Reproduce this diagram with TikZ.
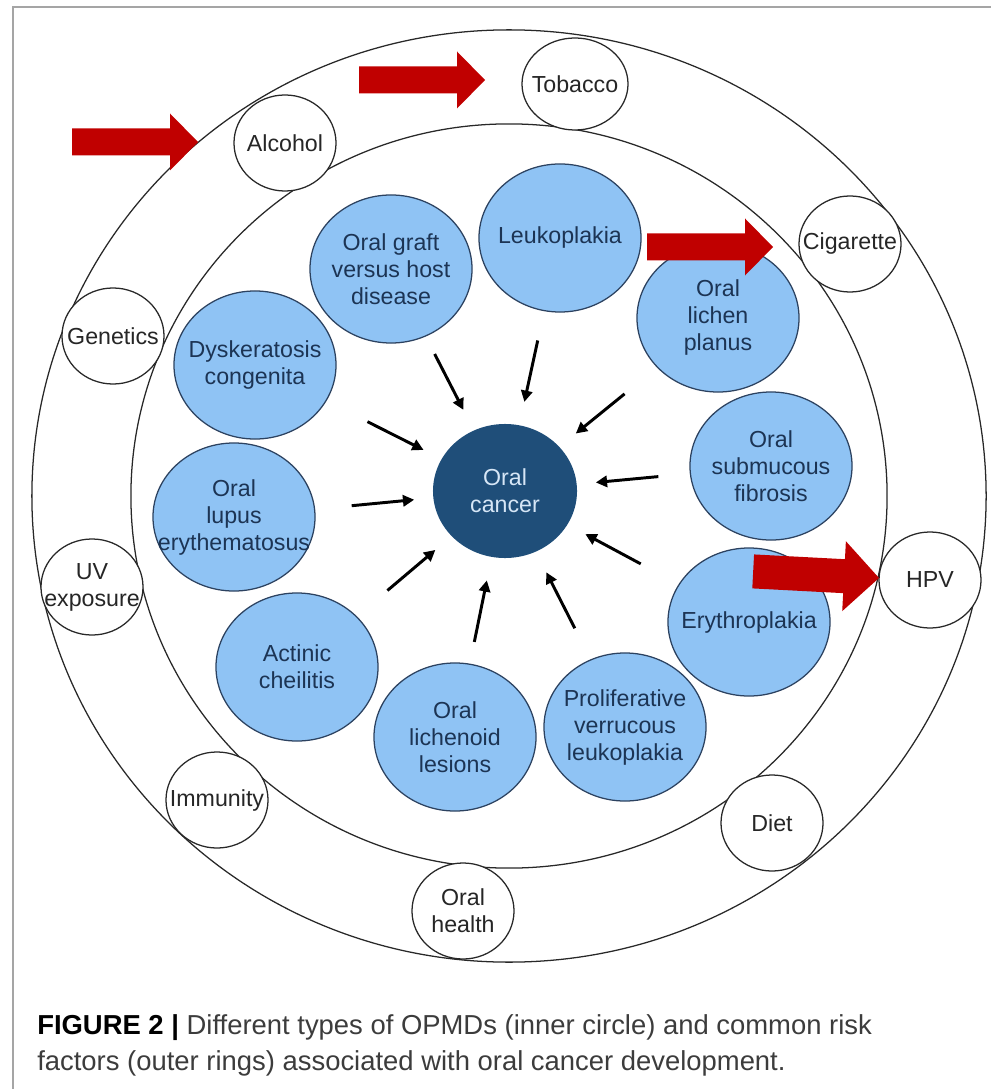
\documentclass[tikz,border=0pt]{standalone}
\usepackage{fontspec}
\setmainfont{Liberation Sans}
\usetikzlibrary{shapes.geometric, arrows.meta, calc}

\definecolor{opmdblue}{RGB}{143,195,244}
\definecolor{opmdline}{RGB}{44,66,96}
\definecolor{opmdtext}{RGB}{28,52,84}
\definecolor{cancerblue}{RGB}{31,78,121}
\definecolor{cancertext}{RGB}{214,230,246}
\definecolor{riskred}{RGB}{192,0,0}
\definecolor{ringgray}{RGB}{40,40,40}
\definecolor{framegray}{RGB}{165,165,165}
\definecolor{captiongray}{RGB}{60,60,60}

\tikzset{
  ring/.style={ellipse, draw=ringgray, line width=0.9pt, inner sep=0pt},
  opmd/.style={ellipse, draw=opmdline, line width=0.9pt, fill=opmdblue, minimum width=4.05cm, minimum height=3.7cm, inner sep=0pt},
  risk/.style={ellipse, draw=ringgray, line width=0.9pt, fill=white, minimum width=2.55cm, minimum height=2.4cm, inner sep=0pt},
  txt/.style={align=center, text=opmdtext, font=\fontsize{16.5}{19.2}\selectfont},
  rtxt/.style={align=center, text=black!85, font=\fontsize{16.5}{19.2}\selectfont},
  feed/.style={line width=2.1pt, -{Triangle[length=8pt,width=8pt]}}
}

\begin{document}
\begin{tikzpicture}[x=0.025cm, y=-0.025cm]
\useasboundingbox (0,0) rectangle (991,1089);

% outer and inner rings
\node[ring, minimum width=23.85cm, minimum height=23.3cm] (outer) at (509,496) {};
\node[ring, minimum width=18.9cm, minimum height=18.6cm] (inner) at (509,496) {};

% risk factors
\node[risk, minimum width=2.65cm, minimum height=2.3cm, label={[rtxt]center:Tobacco}] (tobacco) at (575,84) {};
\node[risk, label={[rtxt]center:Alcohol}] (alcohol) at (285,143) {};
\node[risk, label={[rtxt]center:Genetics}] (genetics) at (113,336) {};
\node[risk, label={[rtxt]center:Cigarette}] (cigarette) at (850,244) {};
\node[risk, label={[rtxt]center:HPV}] (hpv) at (930,580) {};
\node[risk, label={[rtxt]center:UV\\exposure}] (uv) at (92,587) {};
\node[risk, label={[rtxt]center:Immunity}] (immunity) at (217,800) {};
\node[risk, label={[rtxt]center:Oral\\health}] (orhealth) at (463,911) {};
\node[risk, label={[rtxt]center:Diet}] (diet) at (772,823) {};

% OPMDs
\node[opmd, label={[txt]center:Leukoplakia}] (leuko) at (560,238) {};
\node[opmd, label={[txt]center:Oral graft\\versus host\\disease}] (graft) at (391,269) {};
\node[opmd, label={[txt]center:Dyskeratosis\\congenita}] (dysk) at (255,365) {};
\node[opmd, label={[txt]center:Oral\\lichen\\planus}] (lichen) at (718,318) {};
\node[opmd, label={[txt]center:Oral\\submucous\\fibrosis}] (submuc) at (771,466) {};
\node[opmd, label={[txt]center:Erythroplakia}] (erythro) at (749,622) {};
\node[opmd, label={[txt]center:Proliferative\\verrucous\\leukoplakia}] (prolif) at (625,727) {};
\node[opmd, label={[txt]center:Oral\\lichenoid\\lesions}] (lichenoid) at (455,737) {};
\node[opmd, label={[txt]center:Actinic\\cheilitis}] (actinic) at (297,667) {};
\node[opmd, label={[txt]center:Oral\\lupus\\erythematosus}] (lupus) at (234,517) {};

\node[ellipse, fill=cancerblue, minimum width=3.6cm, minimum height=3.35cm, inner sep=0pt,
  align=center, text=cancertext, font=\fontsize{16.5}{19.2}\selectfont] (cancer) at (505,491) {Oral\\cancer};

% arrows into the centre
\foreach \s in {graft, leuko, lichen, submuc, erythro, prolif, lichenoid, actinic, lupus, dysk}
  \draw[feed] ($(cancer)!3.85cm!(\s)$) -- ($(cancer)!2.28cm!(\s)$);

% red block arrows
\foreach \tx/\ty/\ang/\hl/\hh/\sh/\sl in {198/142/0/28/28.5/13.5/98, 485/80/0/28/28.5/13.5/98,
    773/247/0/28/28.5/13.5/98, 879/578/-3/35/35/17/91}
  \fill[riskred, rotate around={\ang:(\tx,\ty)}] (\tx,\ty) -- ++(-\hl,-\hh) -- ++(0,\hh-\sh)
    -- ++(-\sl,0) -- ++(0,2*\sh) -- ++(\sl,0) -- ++(0,\hh-\sh) -- cycle;

% caption (base is the last line)
\node[anchor=base west, align=left, inner sep=0pt, text=captiongray,
  font=\fontsize{19.5}{25.6}\selectfont] (caption) at (37,1070)
  {\textcolor{black}{\textbf{FIGURE 2 |}} Different types of OPMDs (inner circle) and common risk\\
   factors (outer rings) associated with oral cancer development.};

% frame
\draw[framegray, line width=1.2pt] (13,1089) -- (13,7) -- (991,7);
\end{tikzpicture}
\end{document}
